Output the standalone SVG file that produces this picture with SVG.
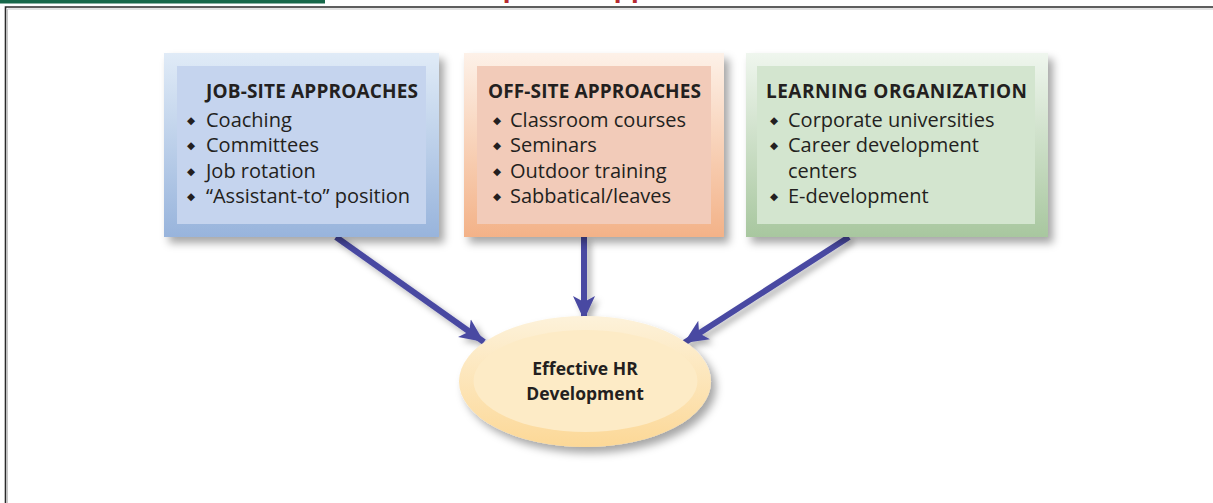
<svg xmlns="http://www.w3.org/2000/svg" width="1213" height="503" viewBox="0 0 1213 503">
<defs>
<style>
.t{font-family:"Open Sans","DejaVu Sans",sans-serif;fill:#231f20}
.h{font-size:19px;font-weight:700}
.i{font-size:20px}
.b{font-family:"DejaVu Sans",sans-serif;font-size:10.5px}
.c{font-size:17.5px;font-weight:700;text-anchor:middle}
.arr{stroke:#4a4aa2;stroke-width:6;fill:none;marker-end:url(#ah)}
</style>
<linearGradient id="gBlue" x1="0" y1="0" x2="0" y2="1"><stop offset="0" stop-color="#e0ebf7"/><stop offset="1" stop-color="#98b4dc"/></linearGradient>
<linearGradient id="gOr" x1="0" y1="0" x2="0" y2="1"><stop offset="0" stop-color="#fdf1e8"/><stop offset="1" stop-color="#f3b288"/></linearGradient>
<linearGradient id="gGr" x1="0" y1="0" x2="0" y2="1"><stop offset="0" stop-color="#eff6ee"/><stop offset="1" stop-color="#a8c79f"/></linearGradient>
<linearGradient id="gEl" x1="0" y1="0" x2="0" y2="1"><stop offset="0" stop-color="#fdf2da"/><stop offset="1" stop-color="#fcd897"/></linearGradient>
<filter id="sh" x="-20%" y="-20%" width="150%" height="160%"><feDropShadow dx="5" dy="6" stdDeviation="4" flood-color="#000" flood-opacity="0.35"/></filter>
<filter id="sha" x="-30%" y="-30%" width="160%" height="160%"><feDropShadow dx="4" dy="4" stdDeviation="3" flood-color="#000" flood-opacity="0.3"/></filter>
<marker id="ah" markerUnits="userSpaceOnUse" markerWidth="26" markerHeight="24" refX="24" refY="12" orient="auto" viewBox="0 0 26 24">
<path d="M24,12 L0,1 L6,12 L0,23 Z" fill="#4a4aa2"/>
</marker>
</defs>
<rect x="0" y="0" width="325" height="3.5" fill="#17684a"/>
<text x="411" y="-3" font-family="Liberation Sans, Arial, sans-serif" font-size="28" font-weight="700" fill="#b52a30">Development Approaches</text>
<path d="M5.5,503 V7 H1213" fill="none" stroke="#2a2a2a" stroke-width="1.6"/>
<path d="M7.5,503 V9 H1213" fill="none" stroke="#c8c8c8" stroke-width="1"/>
<g id="connectors" filter="url(#sha)">
<path class="arr" d="M336,237 L484,342"/>
<path class="arr" d="M584,237 L584,320"/>
<path class="arr" d="M849,237 L684,343"/>
</g>
<g id="job-site">
<rect x="164" y="53" width="275" height="184" fill="url(#gBlue)" filter="url(#sh)"/>
<rect x="177" y="66" width="249" height="158" fill="#c5d4ee"/>
<text class="t h" x="206" y="98" textLength="212">JOB-SITE APPROACHES</text>
<text class="t i" y="127"><tspan class="b" x="187" dy="-3">◆</tspan><tspan x="206" dy="3">Coaching</tspan></text>
<text class="t i" y="152.3"><tspan class="b" x="187" dy="-3">◆</tspan><tspan x="206" dy="3">Committees</tspan></text>
<text class="t i" y="177.6"><tspan class="b" x="187" dy="-3">◆</tspan><tspan x="206" dy="3">Job rotation</tspan></text>
<text class="t i" y="203"><tspan class="b" x="187" dy="-3">◆</tspan><tspan x="206" dy="3">“Assistant-to” position</tspan></text>
</g>
<g id="off-site">
<rect x="464" y="53" width="260" height="184" fill="url(#gOr)" filter="url(#sh)"/>
<rect x="477" y="66" width="234" height="158" fill="#f2cbb9"/>
<text class="t h" x="488" y="98" textLength="213">OFF-SITE APPROACHES</text>
<text class="t i" y="127"><tspan class="b" x="493" dy="-3">◆</tspan><tspan x="510" dy="3">Classroom courses</tspan></text>
<text class="t i" y="152.3"><tspan class="b" x="493" dy="-3">◆</tspan><tspan x="510" dy="3">Seminars</tspan></text>
<text class="t i" y="177.6"><tspan class="b" x="493" dy="-3">◆</tspan><tspan x="510" dy="3">Outdoor training</tspan></text>
<text class="t i" y="203"><tspan class="b" x="493" dy="-3">◆</tspan><tspan x="510" dy="3">Sabbatical/leaves</tspan></text>
</g>
<g id="learning-org">
<rect x="746" y="53" width="302" height="184" fill="url(#gGr)" filter="url(#sh)"/>
<rect x="757" y="66" width="278" height="158" fill="#d3e5cf"/>
<text class="t h" x="766" y="98" textLength="261">LEARNING ORGANIZATION</text>
<text class="t i" y="127"><tspan class="b" x="770" dy="-3">◆</tspan><tspan x="788" dy="3">Corporate universities</tspan></text>
<text class="t i" y="152.3"><tspan class="b" x="770" dy="-3">◆</tspan><tspan x="788" dy="3">Career development</tspan></text>
<text class="t i" x="788" y="177.6">centers</text>
<text class="t i" y="203"><tspan class="b" x="770" dy="-3">◆</tspan><tspan x="788" dy="3">E-development</tspan></text>
</g>
<g id="effective-hr">
<ellipse cx="585" cy="381.5" rx="126" ry="65.5" fill="url(#gEl)" filter="url(#sh)"/>
<ellipse cx="585.5" cy="381" rx="112" ry="51" fill="#fdebc6"/>
<text class="t c" x="585" y="375">Effective HR</text>
<text class="t c" x="585" y="400">Development</text>
</g>
</svg>
